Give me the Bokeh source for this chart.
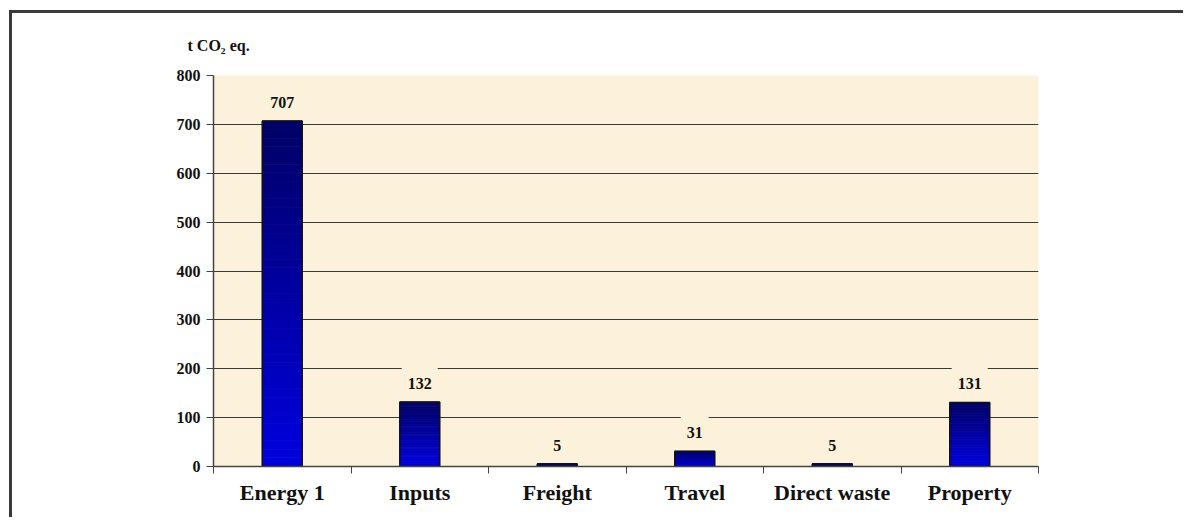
from bokeh.plotting import figure
from bokeh.models import Label, FixedTicker, Range1d
from bokeh.embed import file_html
from bokeh.resources import INLINE

categories = ["Energy 1", "Inputs", "Freight", "Travel", "Direct waste", "Property"]
values = [707, 132, 5, 31, 5, 131]
y_ticks = [0, 100, 200, 300, 400, 500, 600, 700, 800]

BG = "#FCF1DA"
SERIF = "Liberation Serif"
TOPM, LEFTM, BW = 10, 9, 3

p = figure(width=1186 - LEFTM - BW, height=524 - TOPM - BW - 4,
           output_backend="svg", toolbar_location=None,
           x_range=Range1d(0, len(categories)), y_range=Range1d(0, 800),
           min_border_left=213 - LEFTM - BW, min_border_right=148,
           min_border_top=75 - TOPM - BW, min_border_bottom=54)
p.styles = {"border-top": f"{BW}px solid #3a3a3a", "border-left": f"{BW}px solid #3a3a3a",
            "margin-top": f"{TOPM}px", "margin-left": f"{LEFTM}px"}
p.background_fill_color = BG
p.border_fill_color = "white"
p.outline_line_color = None

# axis unit title
p.title.text = "t CO₂ eq."
p.title.align = "left"
p.title.offset = -26
p.title.standoff = 43
p.title.text_font = SERIF
p.title.text_font_style = "bold"
p.title.text_font_size = "16px"
p.title.text_color = "#111111"

# gradient bars built from slices of each value
N = 40
top_c = (0x00, 0x00, 0x66)
bot_c = (0x00, 0x00, 0xE0)
xs_l, xs_r, bs, ts, cs = [], [], [], [], []
centers = [i + 0.5 for i in range(len(categories))]
hw = 0.145
for c, v in zip(centers, values):
    for k in range(N):
        f = (k + 0.5) / N
        col = tuple(int(round(bot_c[j] + (top_c[j] - bot_c[j]) * f)) for j in range(3))
        xs_l.append(c - hw)
        xs_r.append(c + hw)
        bs.append(v * k / N)
        ts.append(v * (k + 1) / N)
        cs.append("#%02x%02x%02x" % col)
p.quad(left=xs_l, right=xs_r, bottom=bs, top=ts, fill_color=cs,
       line_color=cs, line_width=0.8)

p.quad(left=[c - hw for c in centers], right=[c + hw for c in centers],
       bottom=[0] * len(values), top=values, fill_color=None,
       line_color="#111111", line_width=1.5)

for c, v in zip(centers, values):
    p.add_layout(Label(x=c, y=v, text=str(v), y_offset=20,
                       text_align="center", text_baseline="middle",
                       text_font=SERIF, text_font_style="bold", text_font_size="16px",
                       text_color="#111111", background_fill_color=BG,
                       padding=dict(top=11, bottom=8, left=6, right=6)))

# grid
p.xgrid.grid_line_color = None
p.ygrid.grid_line_color = "#3a3a3a"
p.ygrid.grid_line_width = 1
p.ygrid.ticker = FixedTicker(ticks=y_ticks)

# y axis
p.yaxis.ticker = FixedTicker(ticks=y_ticks)
p.yaxis.axis_line_color = "#444444"
p.yaxis.axis_line_width = 1.5
p.yaxis.major_tick_line_color = "#444444"
p.yaxis.major_tick_out = 7
p.yaxis.major_tick_in = 0
p.yaxis.minor_tick_line_color = None
p.yaxis.major_label_text_font = SERIF
p.yaxis.major_label_text_font_style = "bold"
p.yaxis.major_label_text_font_size = "16px"
p.yaxis.major_label_text_color = "#111111"
p.yaxis.major_label_standoff = 6

# x axis: labels at centers, ticks at category boundaries
p.xaxis.ticker = FixedTicker(ticks=centers, minor_ticks=list(range(len(categories) + 1)))
p.xaxis.major_label_overrides = {c: n for c, n in zip(centers, categories)}
p.xaxis.axis_line_color = "#444444"
p.xaxis.axis_line_width = 1.5
p.xaxis.major_tick_line_color = None
p.xaxis.minor_tick_line_color = "#444444"
p.xaxis.minor_tick_out = 7
p.xaxis.minor_tick_in = 0
p.xaxis.major_label_text_font = SERIF
p.xaxis.major_label_text_font_style = "bold"
p.xaxis.major_label_text_font_size = "22px"
p.xaxis.major_label_text_color = "#111111"
p.xaxis.major_label_standoff = 6

open("out.html", "w").write(file_html(p, INLINE))
